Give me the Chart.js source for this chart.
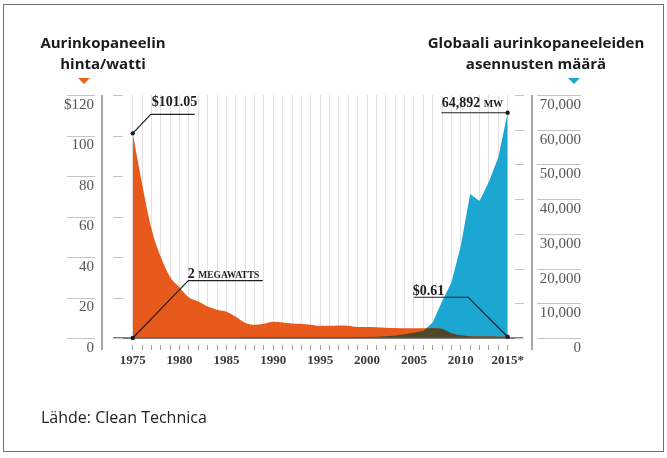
<!DOCTYPE html>
<html>
<head>
<meta charset="utf-8">
<script src="https://cdn.jsdelivr.net/npm/chart.js@4.4.1/dist/chart.umd.min.js"></script>
<style>
  html, body { margin: 0; padding: 0; background: #fff; }
  #wrap { position: relative; width: 667px; height: 458px; overflow: hidden; }
  #myChart { position: absolute; left: 0; top: 0; }
  .frame { position: absolute; left: 3px; top: 4px; width: 659px; height: 446px; border: 1.5px solid #707070; }
  .title { position: absolute; top: 32px; width: 220px; text-align: center; font: bold 15px/20.5px "Open Sans", sans-serif; color: #1b1b1b; }
  .tri { position: absolute; top: 78px; width: 0; height: 0; border-left: 6px solid transparent; border-right: 6px solid transparent; border-top: 6px solid; }
  .source { position: absolute; left: 41px; top: 407px; font: 16px/20px "Open Sans", sans-serif; color: #222; }
</style>
</head>
<body>
<div id="wrap">
  <canvas id="myChart" width="667" height="458"></canvas>
  <div class="frame"></div>
  <div class="title" style="left:-7px">Aurinkopaneelin<br>hinta/watti</div>
  <div class="title" style="left:426px">Globaali aurinkopaneeleiden<br>asennusten määrä</div>
  <div class="tri" style="left:78px; border-top-color:#e8641e"></div>
  <div class="tri" style="left:568px; border-top-color:#1ca6d2"></div>
  <div class="source">Lähde: Clean Technica</div>
</div>
<script>
const years = [1975, 1976, 1977, 1978, 1979, 1980, 1981, 1982, 1983, 1984,
    1985, 1986, 1987, 1988, 1989, 1990, 1991, 1992, 1993, 1994,
    1995, 1996, 1997, 1998, 1999, 2000, 2001, 2002, 2003, 2004,
    2005, 2006, 2007, 2008, 2009, 2010, 2011, 2012, 2013, 2014, 2015];
// $ per watt
const pricePerWatt = [101.05, 76, 54, 40, 30, 25, 20, 18, 15.5, 14,
    13, 10.5, 7.5, 6.5, 7, 8, 7.7, 7.2, 7, 6.5,
    6, 6, 6.2, 6, 5.4, 5.4, 5.3, 5.1, 4.9, 4.8,
    4.8, 4.8, 4.8, 4.4, 2.4, 1.4, 0.9, 0.75, 0.7, 0.65, 0.61];
// installed MW
const installedMW = [2, 3, 4, 6, 8, 10, 14, 18, 22, 26,
    30, 35, 40, 45, 50, 55, 60, 70, 80, 90,
    100, 120, 150, 180, 220, 280, 350, 500, 750, 1100,
    1500, 2000, 4500, 10500, 16000, 26500, 41500, 39500, 45000, 52000, 64892];

const xTickYears = [1975, 1980, 1985, 1990, 1995, 2000, 2005, 2010, 2015];
const xTickLabels = ['1975', '1980', '1985', '1990', '1995', '2000', '2005', '2010', '2015*'];
const priceTicks = [0, 20, 40, 60, 80, 100, 120];
const priceTickLabels = ['0', '20', '40', '60', '80', '100', '$120'];
const mwTicks = [0, 10000, 20000, 30000, 40000, 50000, 60000, 70000];
const mwTickLabels = ['0', '10,000', '20,000', '30,000', '40,000', '50,000', '60,000', '70,000'];

const orange = '#e85a1b';
const teal = '#1ca6d2';
const overlapColor = '#4f472a';

// callouts: dataset, point index, text parts [text, size], text offset, leader path
const notes = [
    {ds: 0, i: 0, parts: [['$101.05', 14]], tx: 19, ty: -27, path: [[0, 0], [18, -19], [62, -19]]},
    {ds: 1, i: 0, parts: [['2 ', 14], ['MEGAWATTS', 9.5]], tx: 55, ty: -60, path: [[0, 0], [55.6, -57.3], [130, -57.3]]},
    {ds: 0, i: 40, parts: [['$0.61', 14]], tx: -95, ty: -42, path: [[0, 0], [-39.4, -39.5], [-93.7, -39.5]]},
    {ds: 1, i: 40, parts: [['64,892 ', 14], ['MW', 10]], tx: -66, ty: -6, path: [[0, 0], [-66.3, 0]]}
];

const overlapPlugin = {
    id: 'overlap',
    afterDatasetsDraw(chart) {
        const ctx = chart.ctx;
        const shape = (i) => {
            const meta = chart.getDatasetMeta(i);
            const pts = meta.data;
            const base = chart.scales[meta.yAxisID].getPixelForValue(0);
            ctx.beginPath();
            meta.dataset.path(ctx);
            ctx.lineTo(pts[pts.length - 1].x, base);
            ctx.lineTo(pts[0].x, base);
            ctx.closePath();
        };
        ctx.save();
        shape(1);
        ctx.clip();
        shape(0);
        ctx.fillStyle = overlapColor;
        ctx.fill();
        ctx.restore();
    }
};

const framePlugin = {
    id: 'frame',
    afterDraw(chart) {
        const ctx = chart.ctx;
        const a = chart.chartArea;
        const yl = chart.scales.y;
        const yr = chart.scales.y1;
        ctx.save();
        // side rules
        ctx.strokeStyle = '#8a8a8a';
        ctx.lineWidth = 1.5;
        ctx.beginPath();
        ctx.moveTo(a.left, a.top);
        ctx.lineTo(a.left, a.bottom + 12);
        ctx.moveTo(a.right, a.top);
        ctx.lineTo(a.right, a.bottom + 12);
        ctx.stroke();
        // baseline
        ctx.strokeStyle = '#555';
        ctx.beginPath();
        ctx.moveTo(a.left + 11, a.bottom);
        ctx.lineTo(a.right - 9, a.bottom);
        ctx.stroke();
        // short inner ticks and rules over labels
        ctx.lineWidth = 1;
        ctx.strokeStyle = '#c4c4c4';
        ctx.beginPath();
        yl.ticks.forEach(t => {
            const py = Math.round(yl.getPixelForValue(t.value)) + 0.5;
            ctx.moveTo(a.left + 11, py); ctx.lineTo(a.left + 21, py);
            ctx.moveTo(yl.right - 35, py); ctx.lineTo(yl.right - 7, py);
        });
        yr.ticks.forEach(t => {
            const py = Math.round(yr.getPixelForValue(t.value)) + 0.5;
            ctx.moveTo(a.right - 17, py); ctx.lineTo(a.right - 8, py);
            ctx.moveTo(yr.left + 5, py); ctx.lineTo(yr.left + 49, py);
        });
        ctx.stroke();
        // callouts
        notes.forEach(n => {
            const p = chart.getDatasetMeta(n.ds).data[n.i];
            ctx.strokeStyle = '#222';
            ctx.lineWidth = 1.2;
            ctx.beginPath();
            n.path.forEach(([dx, dy], k) => {
                if (k === 0) ctx.moveTo(p.x + dx, p.y + dy);
                else ctx.lineTo(p.x + dx, p.y + dy);
            });
            ctx.stroke();
            ctx.fillStyle = '#1e1e1e';
            ctx.beginPath();
            ctx.arc(p.x, p.y, 2.2, 0, Math.PI * 2);
            ctx.fill();
            let x = p.x + n.tx;
            ctx.textBaseline = 'alphabetic';
            ctx.textAlign = 'left';
            n.parts.forEach(([txt, size]) => {
                ctx.font = 'bold ' + size + 'px "Liberation Serif", serif';
                ctx.fillText(txt, x, p.y + n.ty);
                x += ctx.measureText(txt).width;
            });
        });
        ctx.restore();
    }
};

const tickFont = {family: '"Liberation Serif", serif', size: 15};

new Chart(document.getElementById('myChart'), {
    type: 'line',
    data: {
        datasets: [{
            label: 'Hinta/watti',
            data: years.map((yr, i) => ({x: yr, y: pricePerWatt[i]})),
            yAxisID: 'y',
            backgroundColor: orange,
            borderWidth: 0,
            pointRadius: 0,
            fill: 'origin',
            cubicInterpolationMode: 'monotone'
        }, {
            label: 'Asennukset (MW)',
            data: years.map((yr, i) => ({x: yr, y: installedMW[i]})),
            yAxisID: 'y1',
            backgroundColor: teal,
            borderWidth: 0,
            pointRadius: 0,
            fill: 'origin',
            tension: 0
        }]
    },
    options: {
        responsive: false,
        animation: false,
        devicePixelRatio: 1,
        layout: {padding: {top: 95, left: 0, right: 86, bottom: 80}},
        plugins: {
            legend: {display: false},
            tooltip: {enabled: false}
        },
        scales: {
            x: {
                type: 'linear',
                min: 1971.72,
                max: 2017.6,
                z: 1,
                afterBuildTicks: s => { s.ticks = years.map(v => ({value: v})); },
                afterFit: s => { s.height = 40; s.paddingLeft = 0; s.paddingRight = 0; },
                border: {display: false},
                grid: {
                    color: 'rgba(170,170,170,0.35)',
                    lineWidth: 1,
                    tickColor: '#a0a0a0',
                    tickLength: 12,
                    tickBorderDash: [0, 7, 5, 50]
                },
                ticks: {
                    autoSkip: false,
                    maxRotation: 0,
                    padding: 3,
                    color: '#3a3a3a',
                    font: {family: '"Liberation Serif", serif', size: 13, weight: 'bold'},
                    callback: v => {
                        const k = xTickYears.indexOf(v);
                        return k >= 0 ? xTickLabels[k] : '';
                    }
                }
            },
            y: {
                position: 'left',
                min: 0,
                max: 120,
                afterBuildTicks: s => { s.ticks = priceTicks.map(v => ({value: v})); },
                afterFit: s => { s.width = 102; s.paddingTop = 0; s.paddingBottom = 0; },
                border: {display: false},
                grid: {display: false, drawTicks: false},
                ticks: {
                    padding: 8,
                    labelOffset: 10,
                    color: '#555',
                    font: tickFont,
                    callback: v => priceTickLabels[priceTicks.indexOf(v)]
                }
            },
            y1: {
                position: 'right',
                min: 0,
                max: 70000,
                afterBuildTicks: s => { s.ticks = mwTicks.map(v => ({value: v})); },
                afterFit: s => { s.width = 49; s.paddingTop = 0; s.paddingBottom = 0; },
                border: {display: false},
                grid: {display: false, drawTicks: false},
                ticks: {
                    crossAlign: 'far',
                    labelOffset: 10,
                    color: '#555',
                    font: tickFont,
                    callback: v => mwTickLabels[mwTicks.indexOf(v)]
                }
            }
        }
    },
    plugins: [overlapPlugin, framePlugin]
});
</script>
</body>
</html>
